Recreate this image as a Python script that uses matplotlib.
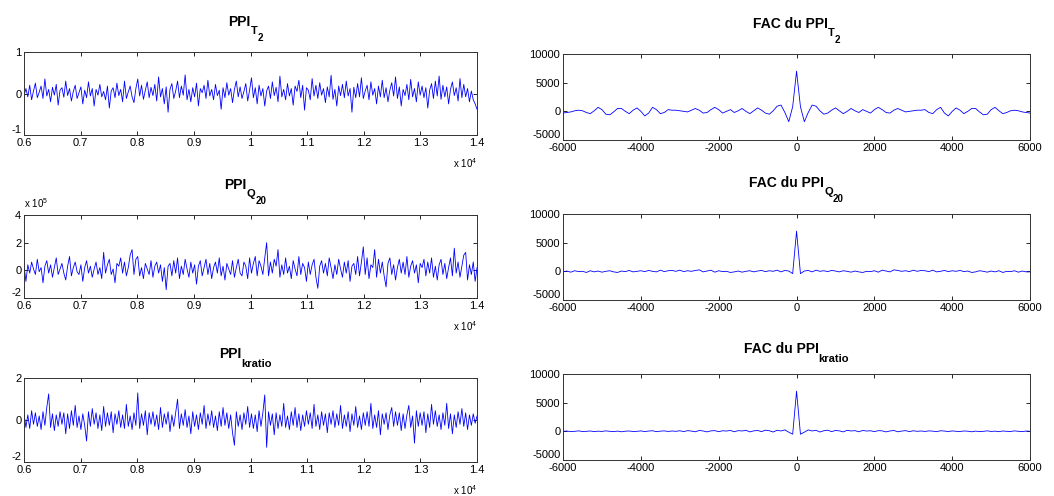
import numpy as np
import matplotlib
matplotlib.use("Agg")
import matplotlib.pyplot as plt
from matplotlib.ticker import FuncFormatter

# style: MATLAB-ish look
plt.rcParams['font.family'] = ['Liberation Sans', 'DejaVu Sans']
plt.rcParams['mathtext.fontset'] = 'custom'
plt.rcParams['mathtext.rm'] = 'Liberation Sans'
plt.rcParams['axes.unicode_minus'] = False

# ---- data ----
# sample index range of the left column
sample_start = 6000
sample_stop = 14000

# PPI T2, hundredths (240 samples across the window)
ppi_t2 = [
    -5, 12, -8, 20, -15, 6, 25, -10, 3, 18,
    -12, 35, -6, 10, -20, 15, -4, 22, -28, 8,
    14, -9, 30, -5, 12, -18, 5, 20, -12, 2,
    16, -25, 8, -10, 28, -6, 12, -30, 10, -4,
    22, -8, 5, -15, 18, -35, 6, 14, -10, 25,
    -5, 10, -20, 30, -12, 4, 18, -8, -22, 12,
    35, -6, 20, -14, 8, 28, -10, 15, -5, 22,
    -18, 40, -8, 12, -25, 16, -45, 10, 24, -12,
    6, 30, -10, 18, -4, 45, -15, 10, -20, 14,
    -8, 25, -30, 12, 2, 20, -12, 32, -6, 10,
    -15, 22, -5, 8, -38, 14, -10, 26, -4, 12,
    -22, 10, 30, -8, 16, -12, 5, 24, -18, 8,
    38, -10, 14, -25, 20, -6, 12, -30, 6, 18,
    -12, 28, -5, 15, -20, 42, -8, 10, -15, 24,
    -6, 12, -28, 18, 5, 32, -10, 20, -40, 14,
    8, -15, 36, -6, 20, -12, 26, -4, 12, -22,
    16, -8, 44, -14, 10, -30, 18, -5, 22, -10,
    30, -6, 12, -45, 15, -10, 24, -8, 38, -12,
    6, 20, -15, 28, -4, 12, -25, 18, -8, 32,
    -10, 14, -20, 8, 26, -6, 40, -12, 16, -30,
    10, -5, 22, -15, 34, -8, 12, -20, 28, -4,
    18, -10, 14, -35, 8, 24, -12, 30, -6, 42,
    -14, 20, -8, 16, -25, 10, 28, -5, 14, -18,
    36, -10, 22, -8, 12, -20, 6, -15, -25, -38]

# PPI Q20, tenths of 1e5
ppi_q20 = [
    3, -8, 4, -2, 6, 1, -3, 8, -1, 2,
    -9, 3, 7, -2, 4, -5, 2, 9, -3, 1,
    5, -2, -7, 3, 10, -4, 2, 6, -1, -3,
    4, -8, 2, 7, -2, 3, -5, 1, 6, -3,
    2, -6, 13, -2, 4, 8, -3, 1, -9, 5,
    3, 9, -2, 6, -4, 2, 11, 15, -3, 8,
    10, -4, 2, -6, 5, 1, -3, 7, -5, 3,
    6, -2, 4, -8, 2, -14, 3, 5, -4, 7,
    -2, 9, -6, 3, -3, 8, 1, -5, 6, -2,
    4, -10, 3, 7, -4, 2, 8, -3, 5, -6,
    2, 6, -2, 9, -4, 3, -7, 5, 1, -3,
    7, -5, 2, 8, -2, -4, 6, 3, -6, 9,
    -2, 5, 10, -4, 7, 3, -3, 9, 20, -4,
    6, -2, 8, 3, 15, -5, 4, -3, 9, -2,
    3, -6, 7, 1, -4, 10, -3, 5, 2, -8,
    6, -3, 4, 8, -5, -13, 3, 7, -2, 5,
    -4, 9, 2, -6, 4, -3, 8, 1, -5, 6,
    -2, 7, -8, 3, 5, -3, 10, -4, 6, 17,
    -3, 9, -6, 4, 2, 15, -5, 8, -2, 6,
    -4, -12, 5, 9, -3, 4, -7, 2, 8, -2,
    6, -3, 10, -5, 3, 7, -2, 4, -9, 5,
    2, 8, -4, 6, -2, 9, -5, 3, -7, 4,
    8, -3, 5, -6, 2, 9, -4, 16, -2, 6,
    -5, 3, 11, 13, -7, 4, -3, 6, -8, 2]

# PPI kratio, hundredths
ppi_kratio = [
    30, -35, 25, -40, 45, -20, 35, -30, 20, -45,
    40, -25, 60, 125, -35, 30, -50, 25, -30, 40,
    -20, 35, -65, 30, -40, 45, -25, 70, -35, 20,
    -45, 30, -25, -100, 40, -30, 55, -20, 35, -40,
    25, -50, 65, -30, 35, -25, 40, -60, 30, -20,
    45, -35, 25, -40, 75, -30, 20, -45, 35, -25,
    130, -40, 30, -25, 45, -70, 35, -20, 40, -30,
    25, -45, 60, -35, 30, -20, 40, -55, 25, -30,
    35, 100, -40, 30, -25, 50, -35, 20, -65, 40,
    -30, 25, -45, 35, -20, 70, -40, 30, -25, 45,
    -35, 20, -50, 40, -30, 60, -25, 35, -40, 25,
    -60, -120, 40, -30, 25, -45, 35, -20, 65, -35,
    30, -40, 25, -55, 45, -30, 35, 120, -130, 40,
    -25, 30, -70, 35, -40, 25, -30, 80, -35, 20,
    -45, 40, -25, 60, -35, 30, -50, 25, -30, 45,
    -20, 35, -40, 75, -30, 25, -45, 40, -25, 30,
    -60, 35, -20, 45, -35, 30, -25, 70, -40, 25,
    -30, 40, -55, 30, -25, 65, -35, 20, -45, 35,
    -25, 40, -30, 80, -40, 25, -35, 45, -70, 30,
    -20, 35, -45, 25, 60, -30, 40, -25, 35, -50,
    30, -40, 25, 70, -35, 20, -110, 45, -30, 35,
    -25, 40, -60, 30, -35, 75, -20, 45, -30, 25,
    -45, 35, -25, 80, -40, 30, -65, 25, -35, 40,
    -20, 55, -30, 35, -45, 25, -25, 30, -15, 20]

# autocorrelation lags, -6000..6000 in steps of 100
lag_min = -6000
lag_max = 6000

fac_t2 = [
    -300, -200, -100, 100, 200, 100, -200, -400, 100, 700,
    300, -500, -600, -100, 500, 500, 0, -400, 200, 600,
    0, -800, -300, 700, 300, -400, -200, 300, 200, 200,
    100, 0, -100, 200, 500, 200, -300, -200, 300, 700,
    300, -300, 0, 300, -200, 100, 500, 0, -400, 100,
    600, 200, -300, -500, 100, 900, 1100, -200, -1800, 800,
    7000,
    800, -1800, -200, 1100, 900, 100, -500, -300, 200, 600,
    100, -400, 0, 500, 100, -200, 300, 0, -300, 300,
    700, 300, -200, -300, 200, 500, 200, -100, 0, 100,
    200, 200, 300, -200, -400, 300, 700, -300, -800, 0,
    600, 200, -400, 0, 500, 500, -100, -600, -500, 300,
    700, 100, -400, -200, 100, 200, 100, -100, -200, -300]

fac_q20 = [
    -100, 50, -150, 100, -50, 0, -200, 100, -100, 50,
    -150, 0, 100, -100, -200, 50, -50, 150, -100, 0,
    100, -50, 150, 0, -100, 200, -50, 100, 150, 0,
    200, -50, 100, 0, 150, 250, -100, 50, 200, -150,
    100, -50, 0, -200, -100, 50, -150, 0, 100, -100,
    50, 150, -50, 100, 0, 200, -100, 150, 50, -400,
    7000,
    -400, 50, 150, -100, 200, 0, 100, -50, 150, 50,
    -100, 100, 0, -150, 50, -100, -200, 0, -50, 100,
    -150, 200, 50, -100, 250, 150, 0, 100, -50, 200,
    0, 150, 100, -50, 200, -100, 0, 150, -50, 100,
    0, 150, -50, 50, -200, -100, 100, 0, -150, 50,
    -100, 100, -200, 0, -50, 100, -150, 50, -100, -100]

fac_kratio = [
    0, 50, -50, 0, 80, -30, 0, 60, -60, 30,
    -20, 80, 0, -50, 40, -80, 20, 60, -30, 0,
    70, -40, 50, 100, -60, 30, 80, -20, 60, 0,
    100, -50, 120, 40, -80, 150, 60, -100, 80, 120,
    -60, 100, 50, 150, -80, 120, 60, 180, -100, 80,
    150, -50, 200, 100, -120, 180, 60, 250, -150, -500,
    7000,
    -500, -150, 250, 60, 180, -120, 100, 200, -50, 150,
    80, -100, 180, 60, 120, -80, 150, 50, 100, -60,
    120, 80, -100, 60, 150, -80, 40, 120, -50, 100,
    0, 60, -20, 80, 30, -60, 100, 50, -40, 70,
    0, -30, 60, 20, -80, 40, -50, 0, 80, -20,
    30, -60, 60, 0, -30, 80, 0, -50, 50, 0]

# ---- figure ----
fig = plt.figure(figsize=(10.54, 4.96), dpi=100)
renderer = fig.canvas.get_renderer()

# panel rectangles (fig fractions)
left_boxes = [[0.0228, 0.7278, 0.4298, 0.1673],
              [0.0228, 0.3992, 0.4298, 0.1673],
              [0.0228, 0.0685, 0.4298, 0.1690]]
right_boxes = [[0.5342, 0.7177, 0.4431, 0.1734],
               [0.5342, 0.3952, 0.4431, 0.1734],
               [0.5342, 0.0726, 0.4431, 0.1734]]

left_series = [np.array(ppi_t2) / 100, np.array(ppi_q20) / 10,
               np.array(ppi_kratio) / 100]
left_yticks = [[-1, 0, 1], [-2, 0, 2, 4], [-2, 0, 2]]
left_ylims = [(-1, 1), (-2, 4), (-2, 2)]

right_series = [fac_t2, fac_q20, fac_kratio]

# title pieces: (text, size, drop below main baseline in px)
subs = [[("T", 8, 8), ("2", 7, 15)],
        [("Q", 8, 8), ("20", 7, 15)],
        [("kratio", 8, 9)]]

line_color = '#0000ff'
tick_fs = 8


def matlab_axes(ax):
    ax.tick_params(direction='in', top=True, right=True, length=3,
                   width=0.6, labelsize=tick_fs, pad=2)
    for s in ax.spines.values():
        s.set_linewidth(0.7)
        s.set_color('#333333')
    # lowest y label sits just above the corner, like MATLAB
    ax.yaxis.get_major_ticks()[0].label1.set_verticalalignment('bottom')


def piece_title(ax, pieces, dx=0, gap=11.5):
    W, H = fig.bbox.width, fig.bbox.height
    bb = ax.get_position()
    cx = (bb.x0 + bb.x1) / 2 * W + dx
    base = bb.y1 * H + gap + max(p[2] for p in pieces)
    texts, widths = [], []
    for s, size, dy in pieces:
        t = fig.text(0, 0, s, fontsize=size, fontweight='bold',
                     ha='left', va='baseline')
        texts.append(t)
        widths.append(t.get_window_extent(renderer).width)
    x = cx - sum(widths) / 2
    for t, w, (s, size, dy) in zip(texts, widths, pieces):
        t.set_position((x / W, (base - dy) / H))
        x += w


for box, y, sub, yt, yl in zip(left_boxes, left_series, subs,
                               left_yticks, left_ylims):
    ax = fig.add_axes(box)
    x = np.linspace(sample_start, sample_stop, len(y))
    ax.plot(x, y, color=line_color, lw=0.6)
    ax.set_xlim(sample_start, sample_stop)
    ax.set_ylim(*yl)
    ax.set_yticks(yt)
    ax.set_xticks(np.arange(sample_start, sample_stop + 1, 1000))
    ax.xaxis.set_major_formatter(FuncFormatter(lambda v, p: f"{v / 1e4:g}"))
    matlab_axes(ax)
    piece_title(ax, [("PPI", 10, 0)] + sub, dx=-5)
    # MATLAB-style exponent label under the axis
    ax.text(1.0, -0.34, r'x 10$^4$', transform=ax.transAxes, ha='right',
            va='center', fontsize=7)

# the Q20 panel carries a y exponent too
fig.axes[1].text(0.0, 1.14, r'x 10$^5$', transform=fig.axes[1].transAxes,
                 ha='left', va='center', fontsize=7)

for box, y, sub in zip(right_boxes, right_series, subs):
    ax = fig.add_axes(box)
    lags = np.linspace(lag_min, lag_max, len(y))
    ax.plot(lags, y, color=line_color, lw=0.6)
    ax.set_xlim(lag_min, lag_max)
    ax.set_ylim(-5000, 10000)
    ax.set_yticks([-5000, 0, 5000, 10000])
    ax.set_xticks(np.arange(lag_min, lag_max + 1, 2000))
    matlab_axes(ax)
    piece_title(ax, [("FAC du PPI", 10, 0)] + sub)

fig.savefig('out.png', dpi=100, facecolor='white')
